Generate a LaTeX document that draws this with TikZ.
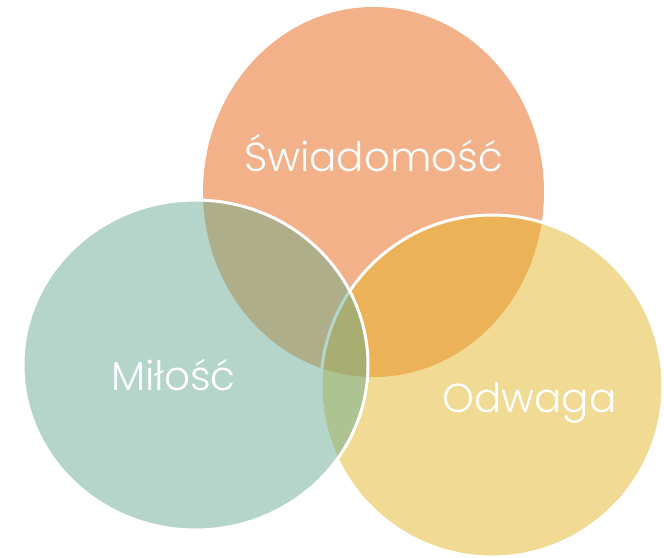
\documentclass[tikz,border=0pt]{standalone}
\usepackage{fontspec}
\setmainfont{Poppins Light}
\definecolor{cSalmon}{HTML}{F3B18A}
\definecolor{cYellow}{HTML}{F1DA94}
\definecolor{cTeal}{HTML}{B5D5CB}
\definecolor{cOrange}{HTML}{EBB257}
\definecolor{cOlive}{HTML}{AFAE8A}
\definecolor{cGreen}{HTML}{ADC391}
\definecolor{cAll}{HTML}{A8AE72}
\tikzset{
  rim/.style={draw=white, line width=3pt},
  label/.style={text=white, font=\fontsize{40.5}{46}\selectfont, inner sep=0pt, anchor=base}
}
\begin{document}
\begin{tikzpicture}[x=1pt,y=-1pt]
\useasboundingbox (0,0) rectangle (664,557);
% top circle
\fill[cSalmon] (373.5,192) ellipse [x radius=170.5pt, y radius=185pt];
% right circle
\fill[cYellow] (492,386) circle [radius=171pt];
\begin{scope}
  \clip (373.5,192) ellipse [x radius=170.5pt, y radius=185pt];
  \fill[cOrange] (492,386) circle [radius=171pt];
\end{scope}
\draw[rim] (492,386) circle [radius=171pt];
% left circle
\fill[cTeal] (195.5,365) ellipse [x radius=172.5pt, y radius=165pt];
\begin{scope}
  \clip (195.5,365) ellipse [x radius=172.5pt, y radius=165pt];
  \fill[cOlive] (373.5,192) ellipse [x radius=170.5pt, y radius=185pt];
  \fill[cGreen] (492,386) circle [radius=171pt];
  \clip (373.5,192) ellipse [x radius=170.5pt, y radius=185pt];
  \fill[cAll] (492,386) circle [radius=171pt];
\end{scope}
\begin{scope}
  \clip (195.5,365) ellipse [x radius=172.5pt, y radius=165pt];
  \draw[draw=cTeal, line width=3pt] (492,386) circle [radius=171pt];
\end{scope}
\draw[rim] (195.5,365) ellipse [x radius=172.5pt, y radius=165pt];
% labels
\node[label] (sw) at (373.5,171) {Świadomość};
\node[label] (mi) at (173.5,390) {Miłość};
\node[label] (od) at (529.5,412) {Odwaga};
\end{tikzpicture}
\end{document}
